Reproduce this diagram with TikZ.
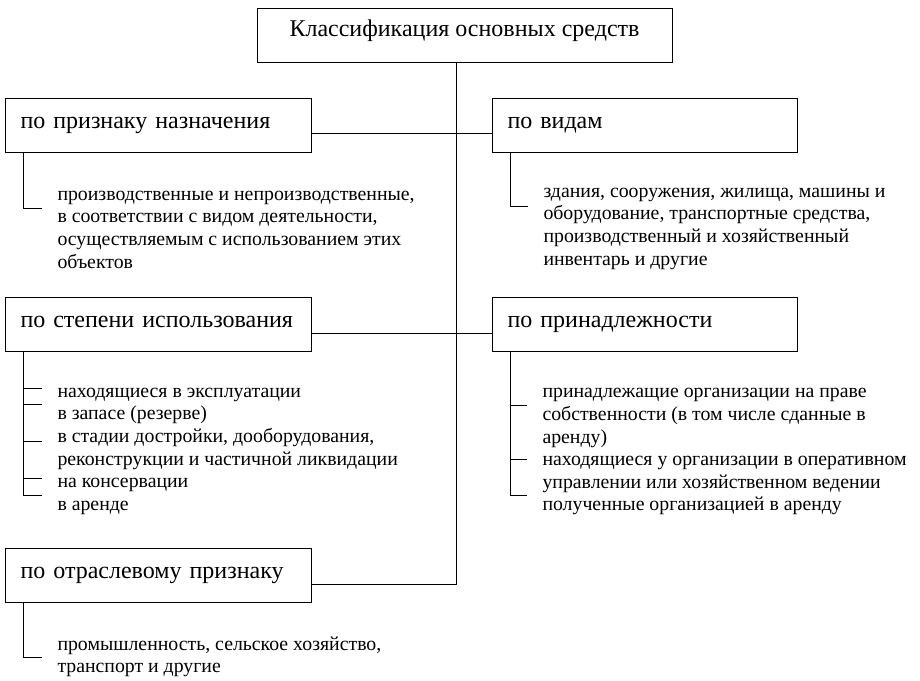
\documentclass[tikz,border=0pt]{standalone}
\usepackage{fontspec}
\setmainfont{Liberation Serif}
\tikzset{
  titlebox/.style={draw, minimum width=415pt, minimum height=54pt,
    text height=12pt, text depth=10pt, font=\fontsize{24}{27}\selectfont},
  catbox/.style={draw, anchor=north west, inner xsep=15pt, text width=276pt,
    minimum height=54pt, align=left, text height=12pt, text depth=7pt,
    font=\fontsize{24}{27}\selectfont},
  listtext/.style={anchor=north west, inner sep=0pt, align=left,
    font=\fontsize{19.8}{22.6}\selectfont}
}
\begin{document}
\begin{tikzpicture}[x=1pt, y=-1pt, line width=1pt]
  \useasboundingbox (0,0) rectangle (920,680);
  % main box and the five groups
  \node[titlebox] (klass) at (464.5,35) {Классификация основных средств};
  \node[catbox] (naz) at (5,98) {по признаку назначения};
  \node[catbox, text width=275pt] (vid) at (492,98) {по видам};
  \node[catbox] (step) at (5,297) {по степени использования};
  \node[catbox, text width=275pt] (prin) at (492,297) {по принадлежности};
  \node[catbox] (otr) at (5,548) {по отраслевому признаку};
  % what each group holds
  \node[listtext] (naztxt) at (57,184) {\strut производственные и непроизводственные,\\
    в соответствии с видом деятельности,\\
    осуществляемым с использованием этих\\
    объектов};
  \node[listtext] (vidtxt) at (543,181) {\strut здания, сооружения, жилища, машины и\\
    оборудование, транспортные средства,\\
    производственный и хозяйственный\\
    инвентарь и другие};
  \node[listtext] (steptxt) at (57,381) {\strut находящиеся в эксплуатации\\
    в запасе (резерве)\\
    в стадии достройки, дооборудования,\\
    реконструкции и частичной ликвидации\\
    на консервации\\
    в аренде};
  \node[listtext] (printxt) at (542,381.5) {\strut принадлежащие организации на праве\\
    собственности (в том числе сданные в\\
    аренду)\\
    находящиеся у организации в оперативном\\
    управлении или хозяйственном ведении\\
    полученные организацией в аренду};
  \node[listtext] (otrtxt) at (57,634) {\strut промышленность, сельское хозяйство,\\
    транспорт и другие};
  % trunk
  \coordinate (j1) at (456,133);
  \coordinate (j2) at (456,333);
  \coordinate (j3) at (456,584);
  \draw (klass.south -| j1) -- (j3) -- (otr.east |- j3);
  \draw (naz.east |- j1) -- (vid.west |- j1);
  \draw (step.east |- j2) -- (prin.west |- j2);
  % brackets under the groups
  \draw ([xshift=18pt]naz.south west) |- ++(19,55);
  \draw ([xshift=18pt]vid.south west) |- ++(18,53);
  \draw ([xshift=18pt]otr.south west) |- ++(19,54);
  \draw ([xshift=18pt]step.south west) -- ++(0,143);
  \foreach \d in {36,52,89,126,143}
    \draw ([xshift=18pt]step.south west) ++(0,\d) -- ++(19,0);
  \draw ([xshift=18pt]prin.south west) -- ++(0,143);
  \foreach \d in {53,107,143}
    \draw ([xshift=18pt]prin.south west) ++(0,\d) -- ++(17,0);
\end{tikzpicture}
\end{document}
